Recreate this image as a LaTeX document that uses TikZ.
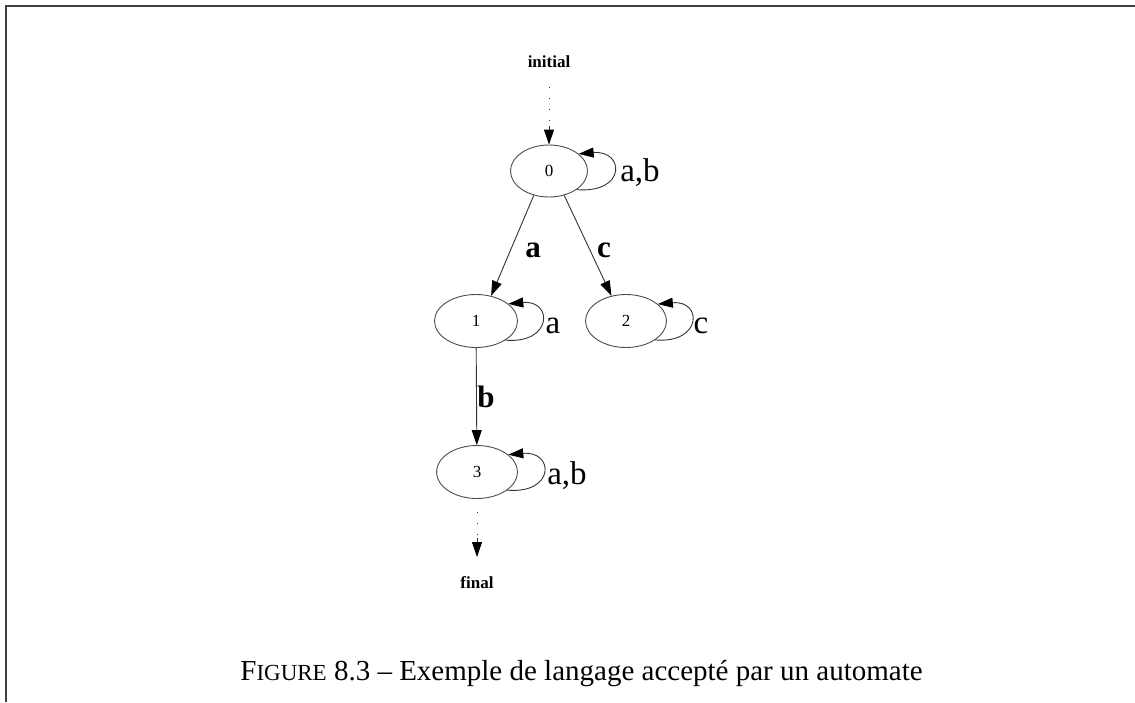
\documentclass[tikz,border=0pt]{standalone}
\usepackage{fontspec}
\setmainfont{Liberation Serif}
\usetikzlibrary{shapes.geometric,arrows.meta}
\tikzset{
  state/.style={ellipse,draw=black!70,line width=0.9pt,minimum width=80pt,minimum height=53pt,inner sep=0pt,font=\fontsize{17}{20}\selectfont},
  edge/.style={draw=black!80,line width=0.9pt,-{Triangle[length=15pt,width=10pt,color=black]}},
  dotline/.style={draw=black!80,line width=1pt,dash pattern=on 1pt off 10pt},
  lbl/.style={inner sep=0pt,font=\fontsize{33}{36}\selectfont},
  blbl/.style={inner sep=0pt,font=\fontsize{31}{34}\selectfont\bfseries},
  small/.style={inner sep=0pt,font=\fontsize{17}{20}\selectfont\bfseries},
  frame/.style={draw=black!75,line width=1.8pt}
}
\begin{document}
\begin{tikzpicture}[x=1pt,y=-1pt]
\useasboundingbox (0,0) rectangle (1135,702);
\draw[frame] (6,702) -- (6,6) -- (1135,6);
% states
\node[state,minimum width=77pt,minimum height=52pt] (n0) at (549,171) {0};
\node[state,minimum width=83pt] (n1) at (476,321) {1};
\node[state,minimum width=81pt] (n2) at (626,321) {2};
\node[state,minimum width=81pt] (n3) at (477,472) {3};
% initial / final
\node[small] (ini) at (549,62) {initial};
\node[small] (fin) at (477,583) {final};
\coordinate (iniend) at (549,126);
\coordinate (finend) at (477,538);
\draw[dotline] (549,87) -- (iniend);
\draw[edge] (iniend) -- (n0.north);
\draw[dotline] (n3.south) ++(0,13) -- (finend);
\draw[edge] (finend) -- (477,557);
% edges
\draw[edge] (n0.238) -- (n1.59);
\draw[edge] (n0.302) -- (n2.120);
\draw[edge] (n1) -- (n3);
% loops
\draw[edge] (n0.-34) .. controls +(50,4) and +(46,-4) .. (n0.30);
\draw[edge] (n1.-33) .. controls +(47,4) and +(45,-4) .. (n1.28);
\draw[edge] (n2.-33) .. controls +(47,4) and +(45,-4) .. (n2.28);
\draw[edge] (n3.-31) .. controls +(48,4) and +(46,-4) .. (n3.29);
% labels
\node[lbl] (l0) at (640,173) {a,b};
\node[lbl] (l1) at (553,326) {a};
\node[lbl] (l2) at (701,326) {c};
\node[lbl] (l3) at (567,476) {a,b};
\node[blbl] (e01) at (533,250) {a};
\node[blbl] (e02) at (604,250) {c};
\node[blbl] (e13) at (486,397) {b};
% caption
\node[anchor=base,inner sep=0pt,font=\fontsize{29}{32}\selectfont] (cap) at (581.5,680)
  {F{\fontsize{23}{26}\selectfont IGURE} 8.3 – Exemple de langage accepté par un automate};
\end{tikzpicture}
\end{document}
